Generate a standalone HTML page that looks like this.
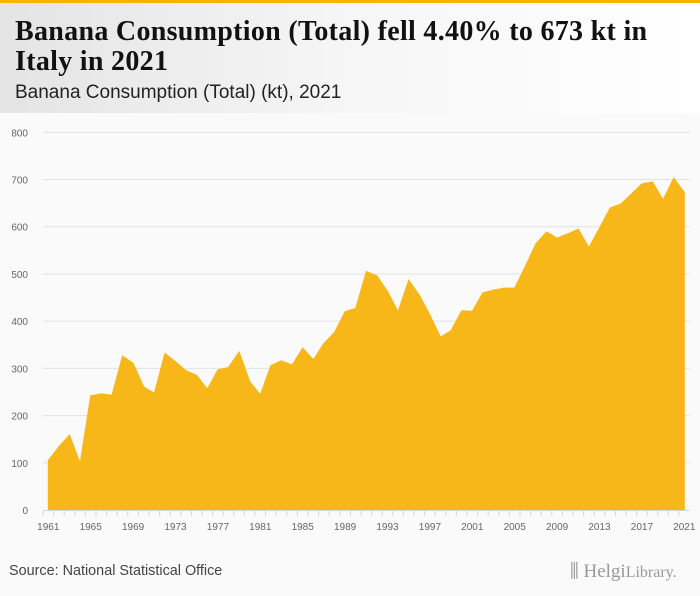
<!DOCTYPE html>
<html><head><meta charset="utf-8"><style>
body{margin:0;width:700px;height:596px;overflow:hidden;background:#fafafa;font-family:"Liberation Sans",sans-serif;position:relative}
#hdr{position:absolute;left:0;top:0;width:700px;height:113px;background:linear-gradient(90deg,#e4e4e4,#f6f6f6 50%,#ffffff);border-top:3px solid #f5b400;box-sizing:border-box}
#title{position:absolute;left:15px;top:14px;font-family:"Liberation Serif",serif;font-weight:bold;font-size:28px;line-height:30px;color:#111;letter-spacing:0.3px;white-space:nowrap}
#sub{position:absolute;left:15px;top:79px;font-size:19px;color:#222}
#src{position:absolute;left:9px;top:563px;font-size:14.4px;color:#444}
#logo{position:absolute;left:570px;top:561px;font-family:"Liberation Serif",serif;font-size:19px;color:#999}
svg{position:absolute;left:0;top:0}
</style></head><body>
<div id="hdr">
<div id="title">Banana Consumption (Total) fell 4.40% to 673 kt in<br>Italy in 2021</div>
<div id="sub">Banana Consumption (Total) (kt), 2021</div>
</div>
<svg id="chart" width="700" height="596"></svg>
<div id="src">Source: National Statistical Office</div>
<div id="logo">⫼ Helgi<span style="font-size:16px">Library.</span></div>
<script>
const years=[];for(let y=1961;y<=2021;y++)years.push(y);
const values=[105,134,159,99,242,246,243,326,311,261,247,332,314,295,285,256,297,302,335,272,244,306,316,307,343,318,353,376,420,427,505,496,463,420,487,455,413,366,380,422,421,460,466,470,470,516,564,589,576,585,595,556,597,640,648,669,691,695,657,703,673];
const yTicks=[0,100,200,300,400,500,600,700,800];
const xLabels=[1961,1965,1969,1973,1977,1981,1985,1989,1993,1997,2001,2005,2009,2013,2017,2021];
const NS="http://www.w3.org/2000/svg";
const svg=document.getElementById('chart');
const x=yr=>48.3+(yr-1961)*10.6;
const y=v=>510-v*0.4721;
function mk(t,a){const e=document.createElementNS(NS,t);for(const k in a)e.setAttribute(k,a[k]);svg.appendChild(e);return e;}
yTicks.forEach(v=>{
  if(v>0){const g=mk('line',{x1:43,x2:690,y1:y(v),y2:y(v),stroke:'#e2e2e2','stroke-width':1});
  
  }
  const t=mk('text',{x:28,y:y(v)+4,'text-anchor':'end','font-size':10,fill:'#666','font-family':'Liberation Sans, sans-serif'});
  t.textContent=v;
  
  
});
let d='M'+x(years[0])+','+y(0);
years.forEach((yr,i)=>{d+=' L'+x(yr)+','+y(values[i]);});
d+=' L'+x(years[years.length-1])+','+y(0)+' Z';
const area=mk('path',{d:d,fill:'#f8b718',stroke:'#f8b718','stroke-width':1});


const ax=mk('line',{x1:43,x2:690,y1:510.5,y2:510.5,stroke:'#ccd6eb','stroke-width':1});


years.forEach(yr=>{
  const tk=mk('line',{x1:x(yr)-5.3,x2:x(yr)-5.3,y1:511,y2:516,stroke:'#ccd6eb','stroke-width':1});
  
  
});
xLabels.forEach(yr=>{
  const t=mk('text',{x:x(yr),y:530,'text-anchor':'middle','font-size':10,fill:'#666','font-family':'Liberation Sans, sans-serif'});
  t.textContent=yr;
  
  
});
</script>
</body></html>
